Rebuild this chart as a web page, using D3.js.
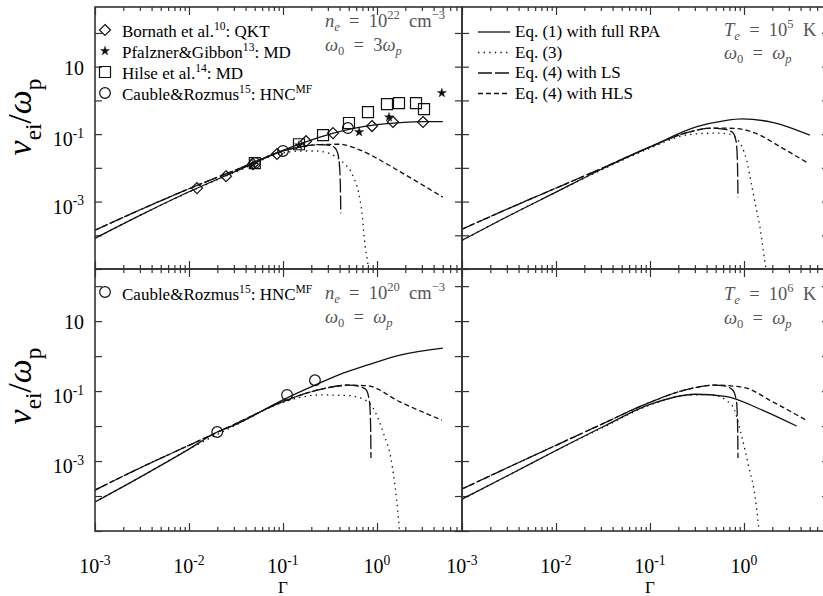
<!DOCTYPE html>
<html>
<head>
<meta charset="utf-8">
<script src="https://cdn.jsdelivr.net/npm/d3@7"></script>
<style>
  body { margin: 0; background: #fff; }
  svg { font-family: "Liberation Serif", "DejaVu Serif", serif; }
  .frame { fill: none; stroke: #333; stroke-width: 1.6; }
  .tick line { stroke: #333; stroke-width: 1.2; }
  .domain { display: none; }
  .curve { fill: none; stroke: #111; stroke-width: 1.3; }
  .note { fill: #555; }
</style>
</head>
<body>
<svg id="chart" width="823" height="596"></svg>
<script>
// all values are [log10 Γ, log10 ν_ei/ω_p]

// top left: n_e = 1e22, ω0 = 3ωp
var tlFull = [[-3,-4.09],[-2.5,-3.38],[-2,-2.71],[-1.5,-2.1],[-1,-1.48],[-0.75,-1.22],[-0.5,-1.0],[-0.25,-0.83],[0,-0.72],[0.25,-0.66],[0.5,-0.63],[0.7,-0.63]];
var tlEq3 = [[-3,-4.09],[-2.5,-3.38],[-2,-2.72],[-1.5,-2.12],[-1,-1.56],[-0.8,-1.5],[-0.65,-1.5],[-0.5,-1.58],[-0.4,-1.75],[-0.33,-1.92],[-0.28,-2.1],[-0.25,-2.28],[-0.21,-2.57],[-0.18,-2.96],[-0.155,-3.46],[-0.14,-3.94],[-0.125,-4.35],[-0.106,-4.68],[-0.09,-5.0]];
var tlLS = [[-3,-3.85],[-2.5,-3.22],[-2,-2.62],[-1.5,-2.06],[-1,-1.5],[-0.8,-1.37],[-0.6,-1.31],[-0.5,-1.33],[-0.45,-1.4],[-0.42,-1.55],[-0.4,-1.9],[-0.39,-2.5],[-0.385,-3.35]];
var tlHLS = [[-3,-3.85],[-2.5,-3.22],[-2,-2.62],[-1.5,-2.06],[-1,-1.5],[-0.8,-1.37],[-0.6,-1.31],[-0.4,-1.3],[-0.2,-1.45],[0,-1.72],[0.2,-2.04],[0.42,-2.4],[0.7,-2.87]];

// top right: T_e = 1e5 K, ω0 = ωp
var trFull = [[-3,-4.15],[-2.5,-3.42],[-2,-2.72],[-1.5,-2.02],[-1,-1.38],[-0.5,-0.78],[-0.2,-0.6],[-0.02,-0.55],[0.3,-0.65],[0.7,-1.03]];
var trEq3 = [[-3,-4.15],[-2.5,-3.42],[-2,-2.72],[-1.5,-2.04],[-1,-1.42],[-0.6,-1.02],[-0.3,-0.97],[-0.15,-1.0],[-0.06,-1.2],[-0.02,-1.38],[0.03,-1.8],[0.085,-2.57],[0.13,-3.2],[0.17,-3.76],[0.22,-4.74],[0.235,-5.0]];
var trLS = [[-3,-3.82],[-2.5,-3.2],[-2,-2.6],[-1.5,-2.0],[-1,-1.38],[-0.6,-0.95],[-0.34,-0.82],[-0.2,-0.86],[-0.12,-0.95],[-0.085,-1.2],[-0.07,-1.8],[-0.064,-2.87]];
var trHLS = [[-3,-3.82],[-2.5,-3.2],[-2,-2.6],[-1.5,-2.0],[-1,-1.38],[-0.6,-0.95],[-0.34,-0.82],[-0.1,-0.83],[0.12,-0.97],[0.4,-1.4],[0.68,-1.86]];

// bottom left: n_e = 1e20, ω0 = ωp
var blFull = [[-3,-4.17],[-2.5,-3.43],[-2,-2.66],[-1.7,-2.17],[-1.5,-1.95],[-1,-1.25],[-0.66,-0.83],[-0.4,-0.53],[-0.106,-0.26],[0.245,0.03],[0.7,0.23]];
var blEq3 = [[-3,-4.17],[-2.5,-3.43],[-2,-2.66],[-1.5,-1.97],[-1,-1.32],[-0.6,-1.11],[-0.3,-1.13],[-0.1,-1.3],[-0.04,-1.49],[0.064,-2.17],[0.16,-3.11],[0.225,-4.54],[0.24,-5.0]];
var blLS = [[-3,-3.83],[-2.5,-3.17],[-2,-2.55],[-1.5,-1.93],[-1,-1.3],[-0.6,-0.95],[-0.3,-0.83],[-0.2,-0.86],[-0.12,-0.95],[-0.08,-1.3],[-0.068,-2.0],[-0.064,-2.91]];
var blHLS = [[-3,-3.83],[-2.5,-3.17],[-2,-2.55],[-1.5,-1.93],[-1,-1.3],[-0.6,-0.95],[-0.3,-0.83],[-0.1,-0.85],[0.245,-1.31],[0.69,-1.83]];

// bottom right: T_e = 1e6 K, ω0 = ωp
var brFull = [[-3,-4.09],[-2.5,-3.4],[-2,-2.7],[-1.5,-2.02],[-1,-1.38],[-0.52,-1.09],[-0.2,-1.15],[0.2,-1.55],[0.56,-2.0]];
var brEq3 = [[-3,-4.09],[-2.5,-3.4],[-2,-2.7],[-1.5,-2.04],[-1,-1.4],[-0.6,-1.12],[-0.35,-1.1],[-0.13,-1.4],[-0.02,-2.34],[0.045,-3.1],[0.12,-4.06],[0.15,-4.74],[0.16,-5.0]];
var brLS = [[-3,-3.8],[-2.5,-3.17],[-2,-2.55],[-1.5,-1.93],[-1,-1.32],[-0.6,-0.95],[-0.31,-0.83],[-0.2,-0.86],[-0.12,-0.97],[-0.08,-1.3],[-0.068,-2.0],[-0.064,-2.91]];
var brHLS = [[-3,-3.8],[-2.5,-3.17],[-2,-2.55],[-1.5,-1.93],[-1,-1.32],[-0.6,-0.95],[-0.31,-0.83],[0,-0.9],[0.3,-1.3],[0.68,-1.86]];

// simulation / theory points
var bornath = [[-1.915,-2.6],[-1.606,-2.25],[-1.32,-1.89],[-1.064,-1.59],[-0.755,-1.21],[-0.468,-0.97],[-0.053,-0.76],[0.17,-0.64],[0.49,-0.64]];
var pfalzner = [[-1.32,-1.9],[-0.83,-1.33],[-0.19,-0.94],[0.128,-0.5],[0.69,0.22]];
var hilse = [[-1.3,-1.86],[-0.83,-1.3],[-0.574,-1.03],[-0.298,-0.67],[-0.096,-0.35],[0.106,-0.11],[0.234,-0.08],[0.415,-0.08],[0.5,-0.26]];
var caubleTop = [[-1.3,-1.86],[-1.0,-1.5],[-0.31,-0.82]];
var caubleBottom = [[-1.7,-2.17],[-0.957,-1.11],[-0.66,-0.69]];

var xLabelExp = [-3, -2, -1, 0];
var yLabelExp = [1, -1, -3];

var svg = d3.select("#chart");
var W = 367, H = 262, decade = 94;
var colX = [95, 462], rowY = [7, 269];
var yMax = [2.77, 2.49];
var p10 = function(v) { return Math.pow(10, v); };

// superscript / subscript text helper; parts are [text, flags] with i=italic b=sub p=sup
function rich(sel, x, y, parts, size, subShift) {
  var t = sel.append("text").attr("x", x).attr("y", y).attr("font-size", size);
  var shift = 0;
  parts.forEach(function(p) {
    var f = p[1] || "";
    var off = f.indexOf("b") >= 0 ? size * (subShift || 0.28) : f.indexOf("p") >= 0 ? -size * 0.42 : 0;
    t.append("tspan")
      .attr("dy", off - shift)
      .attr("font-size", off ? size * 0.68 : size)
      .attr("font-style", f.indexOf("i") >= 0 ? "italic" : null)
      .text(p[0]);
    shift = off;
  });
  return t;
}

var minor = [];
for (var e = -3; e <= 0; e++) for (var m = 2; m <= 9; m++) if (e + Math.log10(m) < 0.9) minor.push(m * p10(e));

var line = function(x, y) {
  return d3.line().x(function(d) { return x(p10(d[0])); }).y(function(d) { return y(p10(d[1])); }).curve(d3.curveMonotoneX);
};

var styles = { full: null, eq3: "1.4 4.2", ls: "14 3", hls: "5 3" };

var panels = [
  { c: 0, r: 0, curves: { full: tlFull, eq3: tlEq3, ls: tlLS, hls: tlHLS } },
  { c: 1, r: 0, curves: { full: trFull, eq3: trEq3, ls: trLS, hls: trHLS } },
  { c: 0, r: 1, curves: { full: blFull, eq3: blEq3, ls: blLS, hls: blHLS } },
  { c: 1, r: 1, curves: { full: brFull, eq3: brEq3, ls: brLS, hls: brHLS } }
];

panels.forEach(function(p, i) {
  var x = d3.scaleLog().domain([1e-3, p10(W / decade - 3)]).range([0, W]);
  var y = d3.scaleLog().domain([1e-5, p10(yMax[p.r])]).range([H, 0]);
  var g = svg.append("g").attr("transform", "translate(" + colX[p.c] + "," + rowY[p.r] + ")");

  g.append("clipPath").attr("id", "clip" + i).append("rect").attr("width", W).attr("height", H);

  // inward ticks on all four sides
  var yt = d3.range(-5, 3).map(p10);
  g.append("g").call(d3.axisLeft(y).tickValues(yt).tickSize(-7).tickFormat(""));
  g.append("g").attr("transform", "translate(" + W + ",0)").call(d3.axisRight(y).tickValues(yt).tickSize(-7).tickFormat(""));
  g.append("g").call(d3.axisTop(x).tickValues([1e-3, 1e-2, 1e-1, 1]).tickSize(-8).tickFormat(""));
  g.append("g").call(d3.axisTop(x).tickValues(minor).tickSize(-4).tickFormat(""));
  g.append("g").attr("transform", "translate(0," + H + ")").call(d3.axisBottom(x).tickValues([1e-3, 1e-2, 1e-1, 1]).tickSize(-8).tickFormat(""));
  g.append("g").attr("transform", "translate(0," + H + ")").call(d3.axisBottom(x).tickValues(minor).tickSize(-4).tickFormat(""));

  var cg = g.append("g").attr("clip-path", "url(#clip" + i + ")");
  Object.keys(p.curves).forEach(function(k) {
    cg.append("path").datum(p.curves[k]).attr("class", "curve")
      .attr("stroke-dasharray", styles[k]).attr("d", line(x, y));
  });

  if (p.c === 0) {
    yLabelExp.forEach(function(ex) {
      var ty = y(p10(ex));
      if (ex === 1) rich(g, -11, ty + 8, [["10"]], 20).attr("text-anchor", "end");
      else rich(g, -11, ty + 12, [["10"], [String(ex), "p"]], 20).attr("text-anchor", "end");
    });
  }
  if (p.r === 1) {
    xLabelExp.forEach(function(ex) {
      rich(g, x(p10(ex)), H + 42, [["10"], [String(ex), "p"]], 20).attr("text-anchor", "middle");
    });
    g.append("text").attr("x", x(p10(-1))).attr("y", H + 62).attr("font-size", 17).attr("text-anchor", "middle").text("Γ");
  }

  p.x = x; p.y = y; p.g = g;
  g.append("rect").attr("class", "frame").attr("width", W).attr("height", H);
});

// markers
var tl = panels[0], bl = panels[2];
function pts(pan, data, draw) {
  pan.g.selectAll(null).data(data).enter().append("path")
    .attr("transform", function(d) { return "translate(" + pan.x(p10(d[0])) + "," + pan.y(p10(d[1])) + ")"; })
    .attr("d", draw.d).attr("fill", draw.fill).attr("stroke", "#111").attr("stroke-width", draw.sw);
}
var diamond = { d: "M0,-5.5L5.5,0L0,5.5L-5.5,0Z", fill: "none", sw: 1.2 };
var square = { d: "M-5.5,-5.5H5.5V5.5H-5.5Z", fill: "none", sw: 1.2 };
var circle = { d: d3.symbol(d3.symbolCircle, 90)(), fill: "none", sw: 1.2 };
var star = { d: d3.symbol(d3.symbolStar, 26)(), fill: "#111", sw: 0.4 };
pts(tl, hilse, square);
pts(tl, caubleTop, circle);
pts(tl, bornath, diamond);
pts(tl, pfalzner, star);
pts(bl, caubleBottom, circle);

// legends
var lg = svg.append("g").attr("font-size", 17);
var rows = [
  [diamond, [["Bornath et al."], ["10", "p"], [": QKT"]]],
  [star, [["Pfalzner&Gibbon"], ["13", "p"], [": MD"]]],
  [square, [["Hilse et al."], ["14", "p"], [": MD"]]],
  [circle, [["Cauble&Rozmus"], ["15", "p"], [": HNC"], ["MF", "p"]]]
];
rows.forEach(function(r, i) {
  var by = 37 + i * 21;
  lg.append("path").attr("transform", "translate(105," + (by - 7) + ")").attr("d", r[0].d)
    .attr("fill", r[0].fill).attr("stroke", "#111").attr("stroke-width", r[0].sw);
  rich(lg, 122, by, r[1], 17);
});
lg.append("path").attr("transform", "translate(105,292)").attr("d", circle.d).attr("fill", "none").attr("stroke", "#111").attr("stroke-width", 1.2);
rich(lg, 122, 300, rows[3][1], 17);

var eqs = [["full", "Eq. (1) with full RPA"], ["eq3", "Eq. (3)"], ["ls", "Eq. (4) with LS"], ["hls", "Eq. (4) with HLS"]];
eqs.forEach(function(e, i) {
  var by = 37 + i * 20.5;
  lg.append("line").attr("class", "curve").attr("x1", 478).attr("x2", 510).attr("y1", by - 5).attr("y2", by - 5)
    .attr("stroke-dasharray", styles[e[0]]);
  lg.append("text").attr("x", 515).attr("y", by).text(e[1]);
});

// panel annotations
var notes = svg.append("g").attr("class", "note");
var eq = "\u2002=\u2002", sp = "\u2002";
var fs = 18.5, sb = 0.2;
rich(notes, 325, 27, [["n", "i"], ["e", "ib"], [eq + "10"], ["22", "p"], [sp + "cm"], ["−3", "p"]], fs, sb);
rich(notes, 325, 51, [["ω", "i"], ["0", "b"], [eq + "3"], ["ω", "i"], ["p", "ib"]], fs, sb);
rich(notes, 724, 36, [["T", "i"], ["e", "ib"], [eq + "10"], ["5", "p"], [sp + "K"]], fs, sb);
rich(notes, 724, 59, [["ω", "i"], ["0", "b"], [eq], ["ω", "i"], ["p", "ib"]], fs, sb);
rich(notes, 325, 299, [["n", "i"], ["e", "ib"], [eq + "10"], ["20", "p"], [sp + "cm"], ["−3", "p"]], fs, sb);
rich(notes, 325, 323, [["ω", "i"], ["0", "b"], [eq], ["ω", "i"], ["p", "ib"]], fs, sb);
rich(notes, 724, 300, [["T", "i"], ["e", "ib"], [eq + "10"], ["6", "p"], [sp + "K"]], fs, sb);
rich(notes, 724, 324, [["ω", "i"], ["0", "b"], [eq], ["ω", "i"], ["p", "ib"]], fs, sb);

// y axis titles
[117, 386].forEach(function(cy) {
  var t = svg.append("g").attr("transform", "translate(31," + cy + ") rotate(-90)");
  rich(t, 0, 0, [["ν", "i"], ["ei", "b"], ["/"], ["ω", "i"], ["p", "b"]], 34).attr("text-anchor", "middle");
});
</script>
</body>
</html>
